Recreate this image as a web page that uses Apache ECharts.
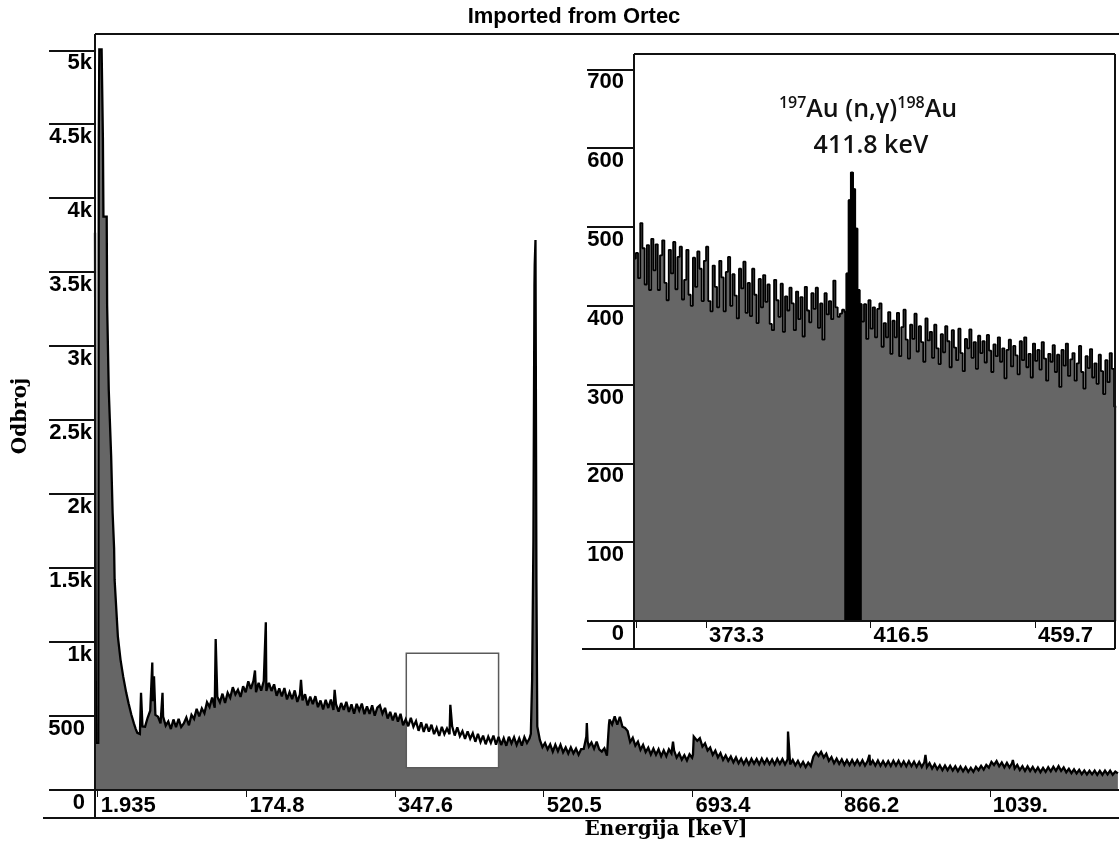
<!DOCTYPE html>
<html>
<head>
<meta charset="utf-8">
<title>Imported from Ortec</title>
<script src="https://cdn.jsdelivr.net/npm/echarts@6/dist/echarts.min.js"></script>
<style>
  html, body { margin: 0; padding: 0; background: #fff; }
  #chart { width: 1119px; height: 854px; }
</style>
</head>
<body>
<div id="chart"></div>
<script>
// ---------------- Spectrum data (energy in keV, counts) ----------------

// Low-energy edge and narrow photopeaks of the full spectrum
const featureEnergy = [
  -1.2, -0.4, -0.1, 2.6, 3.2, 3.8, 6.5, 8.0, 8.6, 12.4,
  12.9, 14.8, 17.6, 19.3, 21.0, 21.6, 25.4, 28.5, 31.6, 35.0,
  37.8, 41.0, 44.0, 46.0, 52.3, 65.4, 67.4, 77.3, 139.1, 184.8,
  197.4, 238.3, 277.4, 411.9, 505.5, 508.5, 509.7, 510.9, 512.0, 570.6,
  571.5, 583.6, 596.3, 610.0, 670.8, 694.0, 694.9, 804.5, 899.2, 964.3,
  1065.9, 1119.6
];
const featureCounts = [
  3767, 3767, 318, 318, 4405, 5006, 5006, 4405, 3875, 3875,
  3278, 2704, 2253, 1870, 1636, 1420, 1036, 880, 766, 660,
  586, 510, 450, 415, 657, 862, 768, 657, 1021, 808,
  1133, 745, 677, 576, 380, 1690, 3410, 3717, 1400, 452,
  330, 335, 440, 492, 327, 240, 361, 395, 237, 237,
  203, 169
];

// Continuum of the full spectrum, one value every 3 keV from 48 keV
const gridStartKeV = 48;
const gridStepKeV = 3;
const gridCounts = [
  386, 378, 430, 428, 488, 536, 600, 508, 496, 450,
  497, 435, 464, 412, 477, 425, 481, 426, 450, 490,
  437, 508, 481, 549, 498, 552, 519, 594, 562, 625,
  556, 630, 593, 651, 588, 658, 624, 695, 646, 677,
  629, 701, 661, 735, 683, 738, 661, 724, 672, 737,
  670, 725, 669, 714, 637, 687, 633, 689, 612, 662,
  614, 673, 595, 646, 606, 648, 571, 632, 580, 634,
  560, 605, 545, 610, 554, 611, 541, 580, 529, 588,
  542, 596, 528, 579, 516, 582, 537, 584, 513, 565,
  515, 573, 502, 557, 572, 516, 555, 483, 528, 471,
  522, 462, 515, 437, 478, 431, 487, 428, 466, 400,
  457, 392, 447, 394, 441, 378, 420, 365, 427, 378,
  416, 377, 430, 368, 423, 364, 398, 346, 396, 347,
  384, 326, 379, 324, 367, 309, 360, 319, 368, 307,
  360, 304, 350, 299, 360, 315, 357, 305, 350, 300,
  358, 318, 350, 745, 3550, 430, 338, 290, 318, 275,
  308, 259, 306, 263, 306, 255, 288, 247, 288, 248,
  280, 239, 277, 278, 360, 293, 321, 280, 327, 275,
  260, 282, 232, 477, 443, 498, 441, 495, 428, 420,
  398, 324, 353, 300, 327, 272, 305, 257, 286, 240,
  279, 238, 275, 229, 268, 229, 275, 247, 268, 219,
  248, 205, 235, 200, 241, 218, 366, 332, 350, 293,
  315, 267, 287, 238, 266, 221, 250, 204, 233, 197,
  226, 187, 220, 181, 212, 175, 209, 172, 210, 178,
  209, 174, 212, 177, 210, 175, 206, 172, 210, 177,
  209, 173, 207, 173, 203, 167, 197, 160, 190, 155,
  185, 161, 227, 254, 230, 258, 220, 245, 197, 222,
  181, 212, 177, 207, 170, 202, 169, 203, 170, 201,
  168, 201, 165, 196, 167, 199, 166, 199, 164, 195,
  163, 195, 162, 197, 165, 198, 162, 193, 160, 194,
  161, 192, 157, 189, 155, 188, 155, 182, 145, 175,
  140, 167, 134, 165, 134, 164, 132, 160, 128, 158,
  127, 155, 123, 150, 123, 156, 134, 163, 138, 169,
  151, 190, 169, 195, 160, 186, 153, 183, 152, 182,
  146, 170, 135, 161, 129, 160, 129, 156, 125, 152,
  121, 150, 123, 154, 126, 157, 130, 161, 129, 153,
  120, 143, 114, 140, 112, 136, 107, 132, 105, 130,
  106, 131, 103, 129, 103, 131, 105, 131, 103, 125,
  112
];

// Channel counts of the zoomed window around the 411.8 keV line
const insetStartKeV = 354.6;
const insetStepKeV = 0.576;
const insetCounts = [
  460, 467, 435, 505, 473, 427, 477, 420, 485, 445,
  478, 420, 464, 483, 429, 407, 471, 441, 481, 421,
  462, 475, 408, 433, 471, 414, 400, 461, 424, 469,
  447, 406, 457, 475, 406, 393, 451, 424, 398, 457,
  436, 393, 443, 462, 400, 440, 413, 384, 447, 422,
  456, 391, 429, 387, 447, 414, 378, 434, 398, 439,
  405, 427, 377, 369, 433, 407, 386, 428, 367, 412,
  394, 423, 403, 369, 418, 383, 411, 361, 424, 394,
  379, 416, 396, 423, 372, 403, 357, 416, 389, 406,
  383, 432, 398, 386, 390, 395, 392, 441, 534, 569,
  548, 498, 420, 402, 380, 402, 358, 407, 371, 398,
  360, 396, 403, 348, 378, 360, 392, 339, 381, 360,
  391, 336, 373, 395, 357, 333, 376, 358, 390, 342,
  374, 354, 329, 384, 356, 367, 334, 376, 346, 326,
  364, 341, 374, 355, 322, 369, 347, 331, 371, 340,
  317, 358, 346, 370, 334, 354, 320, 362, 340, 355,
  328, 363, 343, 316, 351, 336, 360, 329, 346, 308,
  344, 357, 323, 349, 337, 313, 355, 331, 360, 322,
  339, 309, 352, 330, 344, 319, 354, 333, 305, 339,
  329, 350, 316, 338, 297, 344, 324, 352, 311, 332,
  340, 305, 327, 349, 316, 295, 336, 321, 345, 309,
  327, 301, 338, 317, 288, 331, 303, 340, 320, 272
];
// Region of interest (channel indices) of the 198Au line
const roiFirst = 96;
const roiLast = 103;

// Window of the zoom on the full spectrum: [E from, counts from, E to, counts to]
const zoomBox = [360.7, 151, 468.0, 924];

// ---------------- Axis ticks ----------------
const mainXTicks = [1.935, 174.79, 347.645, 520.5, 693.355, 866.21, 1039.065];
const mainXLabels = ['1.935', '174.8', '347.6', '520.5', '693.4', '866.2', '1039.'];
const mainYTicks = [0, 500, 1000, 1500, 2000, 2500, 3000, 3500, 4000, 4500, 5000];
const mainYLabels = ['0', '500', '1k', '1.5k', '2k', '2.5k', '3k', '3.5k', '4k', '4.5k', '5k'];
const insetXTicks = [355.1, 373.3, 416.5, 459.7];
const insetXLabels = ['', '373.3', '416.5', '459.7'];
const insetYTicks = [0, 100, 200, 300, 400, 500, 600, 700];
const insetYLabels = ['0', '100', '200', '300', '400', '500', '600', '700'];

// ---------------- Layout (pixels) ----------------
const L = {
  mainLeft: 95, mainTop: 34, mainRight: 1119, mainBottom: 790, mainBand: 818,
  insetLeft: 634, insetTop: 54, insetRight: 1115, insetBottom: 621, insetBand: 649,
  tickLen: 48
};

// ---------------- Build series data ----------------
const mainPoints = [];
gridCounts.forEach((c, i) => mainPoints.push([gridStartKeV + i * gridStepKeV, c]));
featureEnergy.forEach((e, i) => mainPoints.push([e, featureCounts[i]]));
mainPoints.sort((a, b) => a[0] - b[0]);

// histogram outline: every channel is a flat top from its lower to its upper edge
function histogram(counts, first, last) {
  const pts = [];
  for (let i = first; i <= last; i++) {
    const c = insetStartKeV + i * insetStepKeV;
    pts.push([c - insetStepKeV / 2, counts[i]]);
    pts.push([c + insetStepKeV / 2, counts[i]]);
  }
  return pts;
}
const insetPoints = histogram(insetCounts, 0, insetCounts.length - 1);
const roiPoints = histogram(insetCounts, roiFirst, roiLast);

function lookup(ticks, labels) {
  return function (v) {
    for (let i = 0; i < ticks.length; i++) {
      if (Math.abs(ticks[i] - v) < 1e-6) return labels[i];
    }
    return '';
  };
}
// y labels: numbers without a "k" suffix keep room for it, so digits line up
function yFormatter(ticks, labels) {
  const f = lookup(ticks, labels);
  return function (v) {
    const s = f(v);
    return s.endsWith('k') ? s : s + '{sp| }';
  };
}

const tickFont = { fontFamily: 'Liberation Sans', fontWeight: 'bold', fontSize: 22, color: '#000' };
const frame = { stroke: '#111', lineWidth: 2 };

function xAxisDef(grid, min, max, ticks, labels, margin) {
  return {
    type: 'value', gridIndex: grid, min: min, max: max,
    axisLine: { show: false }, splitLine: { show: false },
    axisTick: { show: true, customValues: ticks, length: 7, inside: false,
      lineStyle: { color: '#111', width: 1 } },
    axisLabel: Object.assign({ customValues: ticks, formatter: lookup(ticks, labels),
      align: 'left', margin: margin, padding: [0, 0, 0, 3] }, tickFont)
  };
}
function yAxisDef(grid, min, max, ticks, labels) {
  return {
    type: 'value', gridIndex: grid, min: min, max: max,
    axisLine: { show: false }, splitLine: { show: false },
    axisTick: { show: true, customValues: ticks, length: L.tickLen - 1, inside: false,
      lineStyle: { color: '#111', width: 2 } },
    axisLabel: Object.assign({ customValues: ticks, formatter: yFormatter(ticks, labels),
      align: 'right', verticalAlign: 'top', margin: 3, padding: [2, 0, 0, 0],
      rich: { sp: { width: 7 } } }, tickFont)
  };
}

const chart = echarts.init(document.getElementById('chart'), null, { renderer: 'canvas' });

const option = {
  animation: false,
  backgroundColor: '#fff',
  grid: [
    { left: L.mainLeft, top: L.mainTop, width: L.mainRight - L.mainLeft,
      height: L.mainBottom - L.mainTop, containLabel: false, outerBoundsMode: 'none' },
    { left: L.insetLeft, top: L.insetTop, width: L.insetRight - L.insetLeft,
      height: L.insetBottom - L.insetTop, containLabel: false, outerBoundsMode: 'none',
      show: true, backgroundColor: '#fff', borderWidth: 0 }
  ],
  xAxis: [
    xAxisDef(0, -1.2, 1189.3, mainXTicks, mainXLabels, 5),
    xAxisDef(1, 354.4, 480.7, insetXTicks, insetXLabels, 4)
  ],
  yAxis: [
    yAxisDef(0, 0, 5110, mainYTicks, mainYLabels),
    yAxisDef(1, 0, 719.5, insetYTicks, insetYLabels)
  ],
  series: [
    { // filled spectrum
      type: 'line', xAxisIndex: 0, yAxisIndex: 0, z: 1, data: mainPoints,
      symbol: 'none', sampling: false,
      lineStyle: { width: 0, opacity: 0 },
      areaStyle: { color: '#666666', opacity: 1 }
    },
    { // window of the zoom
      type: 'custom', xAxisIndex: 0, yAxisIndex: 0, z: 2, data: [zoomBox],
      encode: { x: [0, 2], y: [1, 3] },
      renderItem: function (params, api) {
        const p0 = api.coord([api.value(0), api.value(3)]);
        const p1 = api.coord([api.value(2), api.value(1)]);
        return {
          type: 'rect',
          shape: { x: p0[0], y: p0[1], width: p1[0] - p0[0], height: p1[1] - p0[1] },
          style: { fill: '#ffffff', stroke: '#5a5a5a', lineWidth: 1.5 }
        };
      }
    },
    { // spectrum outline
      type: 'line', xAxisIndex: 0, yAxisIndex: 0, z: 3, data: mainPoints,
      symbol: 'none', sampling: false,
      lineStyle: { color: '#000', width: 2.3, join: 'miter', miterLimit: 3 }
    },
    { // zoomed spectrum
      type: 'line', xAxisIndex: 1, yAxisIndex: 1, z: 5, data: insetPoints,
      symbol: 'none', sampling: false,
      lineStyle: { color: '#000', width: 1.8 },
      areaStyle: { color: '#666666', opacity: 1 }
    },
    { // region of interest of the 411.8 keV peak
      type: 'line', xAxisIndex: 1, yAxisIndex: 1, z: 6, data: roiPoints,
      symbol: 'none', sampling: false,
      lineStyle: { color: '#000', width: 1.5 },
      areaStyle: { color: '#000000', opacity: 1 }
    }
  ],
  graphic: [
    // frame of the full spectrum
    { type: 'line', z: 100, silent: true, shape: { x1: L.mainLeft, y1: L.mainTop, x2: L.mainRight, y2: L.mainTop }, style: frame },
    { type: 'line', z: 100, silent: true, shape: { x1: L.mainLeft, y1: L.mainTop, x2: L.mainLeft, y2: L.mainBand }, style: frame },
    { type: 'line', z: 100, silent: true, shape: { x1: L.mainLeft, y1: L.mainBottom, x2: L.mainRight, y2: L.mainBottom }, style: frame },
    { type: 'line', z: 100, silent: true, shape: { x1: L.mainLeft - L.tickLen - 4, y1: L.mainBand, x2: L.mainRight, y2: L.mainBand }, style: frame },
    // frame of the zoom
    { type: 'line', z: 100, silent: true, shape: { x1: L.insetLeft, y1: L.insetTop, x2: L.insetRight, y2: L.insetTop }, style: frame },
    { type: 'line', z: 100, silent: true, shape: { x1: L.insetLeft, y1: L.insetTop, x2: L.insetLeft, y2: L.insetBand }, style: frame },
    { type: 'line', z: 100, silent: true, shape: { x1: L.insetRight, y1: L.insetTop, x2: L.insetRight, y2: L.insetBand }, style: frame },
    { type: 'line', z: 100, silent: true, shape: { x1: L.insetLeft, y1: L.insetBottom, x2: L.insetRight, y2: L.insetBottom }, style: frame },
    { type: 'line', z: 100, silent: true, shape: { x1: L.insetLeft - L.tickLen - 4, y1: L.insetBand, x2: L.insetRight, y2: L.insetBand }, style: frame },
    // titles
    { type: 'text', z: 100, silent: true, x: 574, y: 17,
      style: { text: 'Imported from Ortec', font: 'bold 22px "Liberation Sans"', fill: '#000',
        align: 'center', verticalAlign: 'middle' } },
    { type: 'text', z: 100, silent: true, x: 666, y: 830,
      style: { text: 'Energija [keV]', font: 'bold 20px "DejaVu Serif"', fill: '#000',
        align: 'center', verticalAlign: 'middle' } },
    { type: 'text', z: 100, silent: true, x: 21, y: 416, rotation: Math.PI / 2,
      style: { text: 'Odbroj', font: 'bold 20px "DejaVu Serif"', fill: '#000',
        align: 'center', verticalAlign: 'middle' } },
    // peak annotation
    { type: 'text', z: 100, silent: true, x: 868, y: 110,
      style: {
        text: '{s|197}{m|Au (n,γ)}{s|198}{m|Au}',
        align: 'center', verticalAlign: 'middle',
        rich: {
          m: { fontFamily: 'Open Sans', fontWeight: 600, fontSize: 25, fill: '#111', lineHeight: 30 },
          s: { fontFamily: 'Open Sans', fontWeight: 600, fontSize: 16, fill: '#111', verticalAlign: 'top', lineHeight: 18 }
        }
      } },
    { type: 'text', z: 100, silent: true, x: 871, y: 146,
      style: { text: '411.8 keV', font: '600 25px "Open Sans"', fill: '#111',
        align: 'center', verticalAlign: 'middle' } }
  ]
};

chart.setOption(option);
</script>
</body>
</html>
